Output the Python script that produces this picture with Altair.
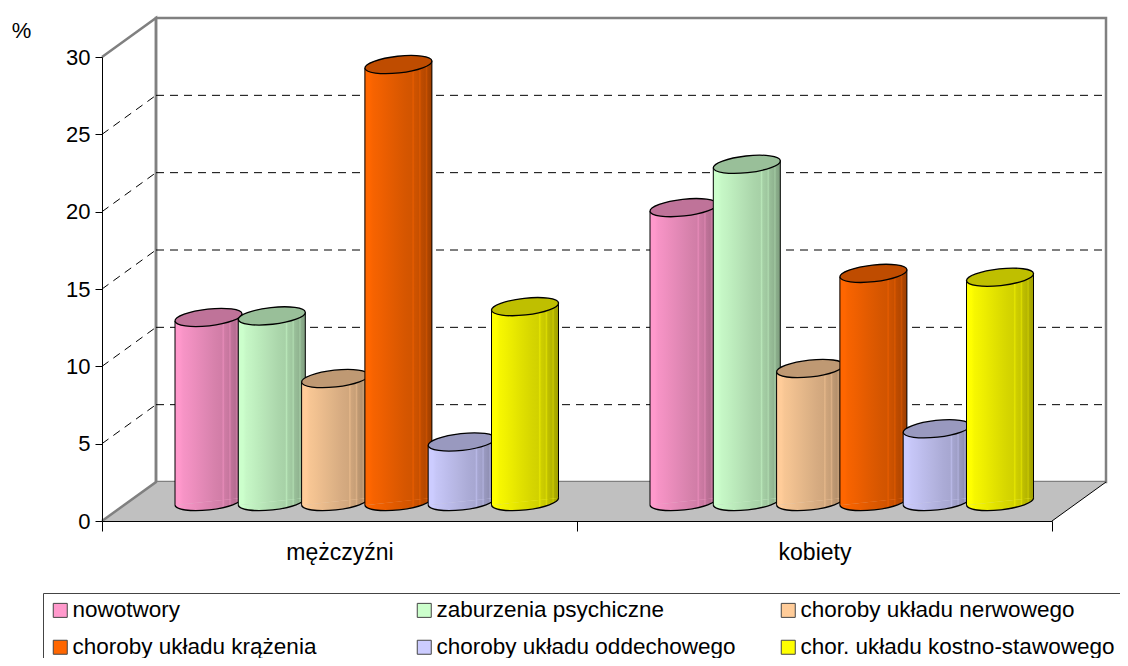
import altair as alt
import pandas as pd

# ---- values ----
categories = ["mężczyźni", "kobiety"]
series = ["nowotwory", "zaburzenia psychiczne", "choroby układu nerwowego",
          "choroby układu krążenia", "choroby układu oddechowego", "chor. układu kostno-stawowego"]
colors = ["#FF99CC", "#CCFFCC", "#FFCC99", "#FF6600", "#CCCCFF", "#FFFF00"]
men = [11.9, 12.0, 7.95, 28.25, 3.85, 12.6]
women = [19.0, 21.8, 8.6, 14.75, 4.7, 14.5]
y_ticks = [0, 5, 10, 15, 20, 25, 30]

# ---- projection constants (pixels of the 3D look expressed in scale units) ----
PX_X = 475.0          # px per category
PX_Y = 464.0 / 30.0   # px per percent
DX = 54 / PX_X
DY = 39 / PX_Y
BASE = 19.5 / PX_Y
TILT = 3.6 / PX_Y
HALF = 33.5 / PX_X
FIRST = 106.5 / PX_X
STEP = 63.3 / PX_X
BAR_PX = 67

FONT = "Liberation Sans"
xs = alt.Scale(domain=[0, 2], nice=False, zero=False)
ys = alt.Scale(domain=[0, 30], nice=False, zero=False)

y_axis = alt.Axis(values=y_ticks, grid=False, title="%", titleAngle=0, titleX=-81, titleY=-27,
                  titleFontSize=22, titleFontWeight="normal", titleFont=FONT, titleAlign="center",
                  titleBaseline="middle", labelFont=FONT, labelFontSize=22, labelColor="black",
                  labelPadding=5, tickSize=7, tickColor="black", domainColor="black", zindex=1)
x_axis = alt.Axis(values=[0, 0.5, 1, 1.5, 2], grid=False, title=None,
                  labelExpr="datum.value==0.5?'%s':datum.value==1.5?'%s':''" % tuple(categories),
                  labelFont=FONT, labelFontSize=23, labelColor="black", labelPadding=10,
                  labelOverlap=False, labelFlush=False, labelBound=False, labelAngle=0,
                  tickSize=10, tickColor="black", domainColor="black", zindex=1,
                  tickOpacity={"condition": {"test": "datum.value==0.5||datum.value==1.5", "value": 0},
                               "value": 1})


def X():
    return alt.X("x:Q", scale=xs, axis=x_axis)


def Y():
    return alt.Y("y:Q", scale=ys, axis=y_axis, stack=None)


def shade(c, f):
    r, g, b = int(c[1:3], 16), int(c[3:5], 16), int(c[5:7], 16)
    return "#%02x%02x%02x" % (min(255, round(r * f)), min(255, round(g * f)), min(255, round(b * f)))


stops = [(0, 1.0), (0.07, 1.0), (0.12, 0.97), (0.2, 0.95), (0.3, 0.92), (0.45, 0.88), (0.6, 0.84),
         (0.7, 0.82), (0.72, 0.9), (0.74, 0.81), (0.8, 0.78), (0.82, 0.86), (0.84, 0.75), (0.9, 0.71),
         (0.92, 0.79), (0.94, 0.68), (1, 0.62)]


def gradient(c):
    return alt.Gradient(gradient="linear", x1=0, x2=1, y1=0, y2=0,
                        stops=[alt.GradientStop(offset=o, color=shade(c, f)) for o, f in stops])


TOP_SHAPE = "M-1,0.11 A1.006,0.25 -6.3 1 1 1,-0.11 A1.006,0.25 -6.3 1 1 -1,0.11 Z"
BOTTOM_SHAPE = "M-1,0.11 A1.006,0.25 -6.3 0 0 1,-0.11"

legend = alt.Legend(title=None, orient="none", legendX=-59, legendY=536, direction="horizontal",
                    columns=3, gridAlign="all", columnPadding=26, rowPadding=14, padding=6,
                    strokeColor="#444444", symbolType="square", symbolSize=196,
                    symbolStrokeColor="#444444", symbolStrokeWidth=1, labelOffset=1, labelLimit=400,
                    labelFont=FONT, labelFontSize=22.5, labelColor="black", symbolOpacity=1)
color = alt.Color("series:N", scale=alt.Scale(domain=series, range=colors), legend=legend)

layers = []

# back wall
wall = pd.DataFrame({"x": [DX], "x2": [2 + DX], "y": [DY], "y2": [30 + DY]})
layers.append(alt.Chart(wall).mark_rect(fill="white", stroke="#808080", strokeWidth=2.5).encode(
    x=X(), x2="x2:Q", y=Y(), y2="y2:Q"))

# floor
floor = pd.DataFrame({"x": [0, DX, 2, 2 + DX], "y": [0, DY, DY, DY], "y2": [0, 0, 0, DY]})
layers.append(alt.Chart(floor).mark_area(color="#C0C0C0", opacity=1).encode(x=X(), y=Y(), y2="y2:Q"))

# side wall outline
side = pd.DataFrame({"x": [0, DX, DX, 0], "y": [0, DY, 30 + DY, 30], "o": [0, 1, 2, 3]})
layers.append(alt.Chart(side).mark_line(color="#808080", strokeWidth=2.5).encode(
    x=X(), y=Y(), order="o:Q"))

# right floor edge
edge = pd.DataFrame({"x": [2, 2 + DX], "y": [0, DY]})
layers.append(alt.Chart(edge).mark_line(color="black", strokeWidth=1).encode(x=X(), y=Y()))

# dashed grid
levels = y_ticks[1:-1]
back = pd.DataFrame({"x": [DX for _ in levels], "x2": [2 + DX for _ in levels], "y": [v + DY for v in levels]})
layers.append(alt.Chart(back).mark_rule(color="black", strokeWidth=1, strokeDash=[8, 6]).encode(
    x=X(), x2="x2:Q", y=Y()))
diag = pd.DataFrame([{"x": px, "y": v + py, "g": v} for v in levels for px, py in ((0, 0), (DX, DY))])
layers.append(alt.Chart(diag).mark_line(color="black", strokeWidth=1, strokeDash=[8, 6]).encode(
    x=X(), y=Y(), detail="g:N"))

# cylinders, left to right, so that each one overlaps the previous one
for c, vals in enumerate((men, women)):
    for i, name in enumerate(series):
        v, col = vals[i], colors[i]
        cx = c + FIRST + i * STEP
        top = BASE + v
        body = pd.DataFrame({"series": [name, name], "x": [cx - HALF, cx + HALF],
                             "y": [top - TILT, top + TILT], "y2": [BASE - TILT, BASE + TILT]})
        centre_low = pd.DataFrame({"x": [cx], "y": [BASE]})
        centre_top = pd.DataFrame({"x": [cx], "y": [top]})
        layers.append(alt.Chart(centre_low).mark_point(
            shape=BOTTOM_SHAPE, size=BAR_PX ** 2, filled=True, fill=gradient(col), stroke="black",
            strokeWidth=1.3, opacity=1).encode(x=X(), y=Y()))
        layers.append(alt.Chart(body).mark_area(opacity=1).encode(
            x=X(), y=Y(), y2="y2:Q", color=color))
        layers.append(alt.Chart(body).mark_area(fill=gradient(col), opacity=1).encode(
            x=X(), y=Y(), y2="y2:Q"))
        for k in (0, 1):
            layers.append(alt.Chart(body.iloc[[k]]).mark_rule(color="black", strokeWidth=1).encode(
                x=X(), y=Y(), y2="y2:Q"))
        layers.append(alt.Chart(centre_top).mark_point(
            shape=TOP_SHAPE, size=BAR_PX ** 2, filled=True, fill=shade(col, 0.75), stroke="black",
            strokeWidth=1.3, opacity=1).encode(x=X(), y=Y()))

chart = alt.layer(*layers).properties(
    width=950, height=464, background="white",
    autosize=alt.AutoSizeParams(type="none"),
    padding={"left": 94, "top": 49, "right": 68, "bottom": 137},
).configure_view(stroke=None)

chart.save("out.html", embed_options={"renderer": "svg", "actions": False})
